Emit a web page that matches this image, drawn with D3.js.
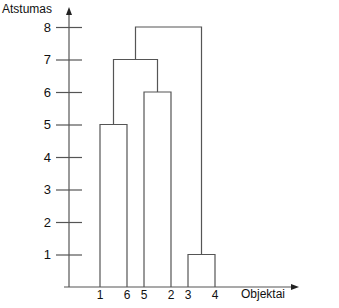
<!DOCTYPE html>
<html>
<head>
<meta charset="utf-8">
<script src="https://cdn.jsdelivr.net/npm/d3@7"></script>
<style>
  body { margin: 0; background: #fff; }
  text { font-family: "Liberation Sans", Arial, sans-serif; fill: #111; }
</style>
</head>
<body>
<script>
// dendrogram data
const leaves = ["1", "6", "5", "2", "3", "4"];
// merges: [left, right, height, name]
const merges = [
  ["1", "6", 5, "A"],
  ["5", "2", 6, "B"],
  ["3", "4", 1, "C"],
  ["A", "B", 7, "D"],
  ["D", "C", 8, "E"]
];
const yTicks = [1, 2, 3, 4, 5, 6, 7, 8];
const yLabel = "Atstumas";
const xLabel = "Objektai";

const w = 339, h = 308;
const ax0 = 69, ay0 = 287;
const lineCol = "#555";

const svg = d3.select("body").append("svg")
  .attr("width", w).attr("height", h);

const yScale = d3.scaleLinear().domain([0, 8]).range([ay0, 27]);

// leaves come in pairs, a bigger gap between the pairs
const gap = 0.63;
const leafPos = leaves.map((d, i) => Math.floor(i / 2) * (1 + gap) + (i % 2));
const xScale = d3.scaleLinear()
  .domain([0, d3.max(leafPos)])
  .range([100, 215]);

// node positions
const nodes = {};
leaves.forEach((d, i) => { nodes[d] = {x: xScale(leafPos[i]), h: 0}; });
merges.forEach(m => {
  const a = nodes[m[0]], b = nodes[m[1]];
  nodes[m[3]] = {x: (a.x + b.x) / 2, h: m[2]};
});

// y ticks (cross the axis)
const yAxis = d3.axisLeft(yScale).tickValues(yTicks).tickSize(26).tickPadding(5);
const gy = svg.append("g")
  .attr("transform", "translate(" + (ax0 + 13) + ",0)")
  .call(yAxis);
gy.select(".domain").remove();
gy.selectAll(".tick line").attr("stroke", lineCol).attr("stroke-width", 1.2);
gy.selectAll(".tick text").style("font-size", "13px")
  .style("font-family", "Liberation Sans, Arial, sans-serif").attr("fill", "#111");

// axes lines
svg.append("line")
  .attr("x1", ax0).attr("x2", ax0).attr("y1", ay0).attr("y2", 12)
  .attr("stroke", lineCol).attr("stroke-width", 1.2);
svg.append("path")
  .attr("d", "M" + ax0 + ",7 L" + (ax0 - 3) + ",15 L" + (ax0 + 3) + ",15 Z")
  .attr("fill", "#222");
svg.append("line")
  .attr("x1", 64).attr("x2", 294).attr("y1", ay0).attr("y2", ay0)
  .attr("stroke", lineCol).attr("stroke-width", 1.2);
svg.append("path")
  .attr("d", "M299," + ay0 + " L291," + (ay0 - 3) + " L291," + (ay0 + 3) + " Z")
  .attr("fill", "#222");

// dendrogram links
const g = svg.append("g")
  .attr("fill", "none").attr("stroke", lineCol).attr("stroke-width", 1.2);
merges.forEach(m => {
  const a = nodes[m[0]], b = nodes[m[1]], y = yScale(m[2]);
  g.append("path")
    .attr("d", "M" + a.x + "," + yScale(a.h) + " V" + y + " H" + b.x + " V" + yScale(b.h));
});

// leaf labels
svg.append("g").selectAll("text")
  .data(leaves)
  .join("text")
  .attr("x", d => nodes[d].x)
  .attr("y", 299)
  .attr("text-anchor", "middle")
  .style("font-size", "12px")
  .text(d => d);

svg.append("text").attr("x", 2).attr("y", 13).style("font-size", "12px").text(yLabel);
svg.append("text").attr("x", 241).attr("y", 298).style("font-size", "12px").text(xLabel);
</script>
</body>
</html>
